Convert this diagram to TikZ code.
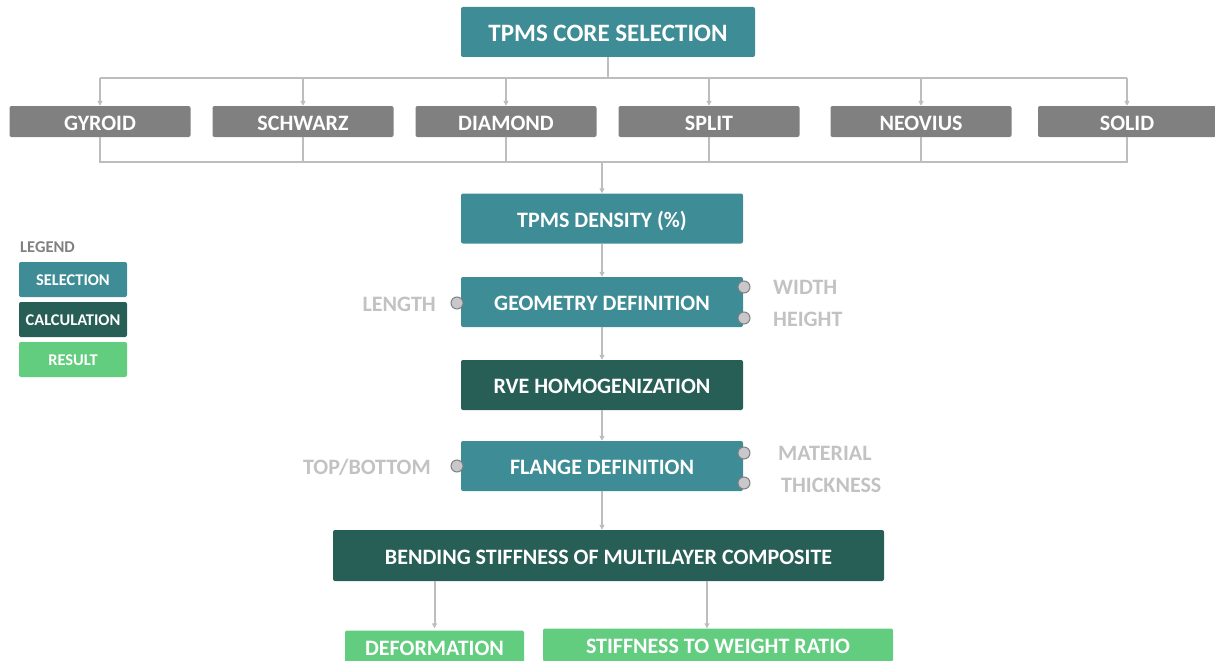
\documentclass[tikz,border=0pt]{standalone}
\usepackage{fontspec}
\setmainfont{Carlito}
\usetikzlibrary{arrows.meta}
\definecolor{selcol}{HTML}{3E8C96}
\definecolor{calccol}{HTML}{275E55}
\definecolor{rescol}{HTML}{62CD7E}
\definecolor{typecol}{HTML}{808080}
\definecolor{linecol}{HTML}{BDBDBD}
\definecolor{labcol}{HTML}{C2C2C2}
\definecolor{portcol}{HTML}{C8C8CC}
\begin{document}
\begin{tikzpicture}[x=1pt, y=-1pt,
    box/.style={rectangle, rounded corners=2pt, inner sep=0pt, text=white,
        text height=17.5pt, text depth=0pt, font=\fontsize{22}{26}\selectfont\bfseries},
    sel/.style={box, fill=selcol, minimum width=282pt, minimum height=50pt},
    calc/.style={box, fill=calccol, minimum height=50pt},
    res/.style={box, fill=rescol, minimum height=33pt},
    type/.style={box, fill=typecol, minimum width=181pt, minimum height=31pt},
    leg/.style={box, minimum width=108pt, minimum height=35pt, text height=11pt,
        font=\fontsize{16.4}{19}\selectfont\bfseries},
    port/.style={circle, draw=typecol, fill=portcol, line width=1pt,
        inner sep=0pt, minimum size=12pt},
    lab/.style={text=labcol, inner sep=0pt, text depth=0pt,
        font=\fontsize{22}{26}\selectfont\bfseries},
    link/.style={draw=linecol, line width=2pt},
    flow/.style={link, -{Triangle[length=5pt, width=5pt]}}]
    \useasboundingbox (0,0) rectangle (1215,661);

    % Nodes
    \node[sel, minimum width=294pt, text height=19pt,
        font=\fontsize{25}{29}\selectfont\bfseries] (core) at (608,32) {TPMS CORE SELECTION};
    \node[type] (gyroid) at (100,121.5) {GYROID};
    \node[type] (schwarz) at (303,121.5) {SCHWARZ};
    \node[type] (diamond) at (506,121.5) {DIAMOND};
    \node[type] (split) at (709,121.5) {SPLIT};
    \node[type] (neovius) at (921,121.5) {NEOVIUS};
    \node[type, minimum width=178pt] (solid) at (1127,121.5) {SOLID};
    \node[sel] (density) at (602,218.5) {TPMS DENSITY (\%)};
    \node[sel] (geometry) at (602,302) {GEOMETRY DEFINITION};
    \node[calc, minimum width=282pt] (rve) at (602,385) {RVE HOMOGENIZATION};
    \node[sel] (flange) at (602,466) {FLANGE DEFINITION};
    \node[calc, minimum width=551pt, minimum height=51pt] (bending) at (608.5,555.5)
        {BENDING STIFFNESS OF MULTILAYER COMPOSITE};
    \node[res, minimum width=179pt] (deform) at (434.5,647) {DEFORMATION};
    \node[res, minimum width=350pt] (ratio) at (718,645) {STIFFNESS TO WEIGHT RATIO};

    % Ports and labels
    \node[port] (plength) at (457,303) {};
    \node[port] (pwidth) at (744,287) {};
    \node[port] (pheight) at (744,318) {};
    \node[port] (ptop) at (457,466) {};
    \node[port] (pmaterial) at (744,453) {};
    \node[port] (pthick) at (744,483) {};
    \node[lab, anchor=east] (length) at (436,304) {LENGTH};
    \node[lab, anchor=west] (width) at (773,287) {WIDTH};
    \node[lab, anchor=west] (height) at (773,319) {HEIGHT};
    \node[lab, anchor=east] (topbot) at (431,467) {TOP/BOTTOM};
    \node[lab, anchor=west] (material) at (778,453) {MATERIAL};
    \node[lab, anchor=west] (thick) at (781,485) {THICKNESS};

    % Legend
    \node[anchor=west, inner sep=0pt, text=typecol, text depth=0pt,
        font=\fontsize{16.5}{19}\selectfont\bfseries] (legend) at (20,247) {LEGEND};
    \node[leg, fill=selcol] (lsel) at (73,279.5) {SELECTION};
    \node[leg, fill=calccol] (lcalc) at (73,319.5) {CALCULATION};
    \node[leg, fill=rescol] (lres) at (73,359.5) {RESULT};

    % Edges
    \coordinate (top) at (608,78);
    \coordinate (bottom) at (602,162);
    \coordinate (rx) at (707,0);
    \draw[link] (core) -- (top);
    \draw[link] (gyroid.north |- top) -- (solid.north |- top);
    \foreach \t in {gyroid, schwarz, diamond, split, neovius, solid}
        \draw[flow] (\t.north |- top) -- (\t.north);
    \draw[link] (gyroid.south) -- (gyroid.south |- bottom) -- (solid.south |- bottom) -- (solid.south);
    \foreach \t in {schwarz, diamond, split, neovius}
        \draw[link] (\t.south) -- (\t.south |- bottom);
    \draw[flow] (bottom) -- (density);
    \draw[flow] (density) -- (geometry);
    \draw[flow] (geometry) -- (rve);
    \draw[flow] (rve) -- (flange);
    \draw[flow] (flange.south) -- (flange.south |- bending.north);
    \draw[flow] (deform.north |- bending.south) -- (deform.north |- ratio.north);
    \draw[flow] (rx |- bending.south) -- (rx |- ratio.north);
\end{tikzpicture}
\end{document}
